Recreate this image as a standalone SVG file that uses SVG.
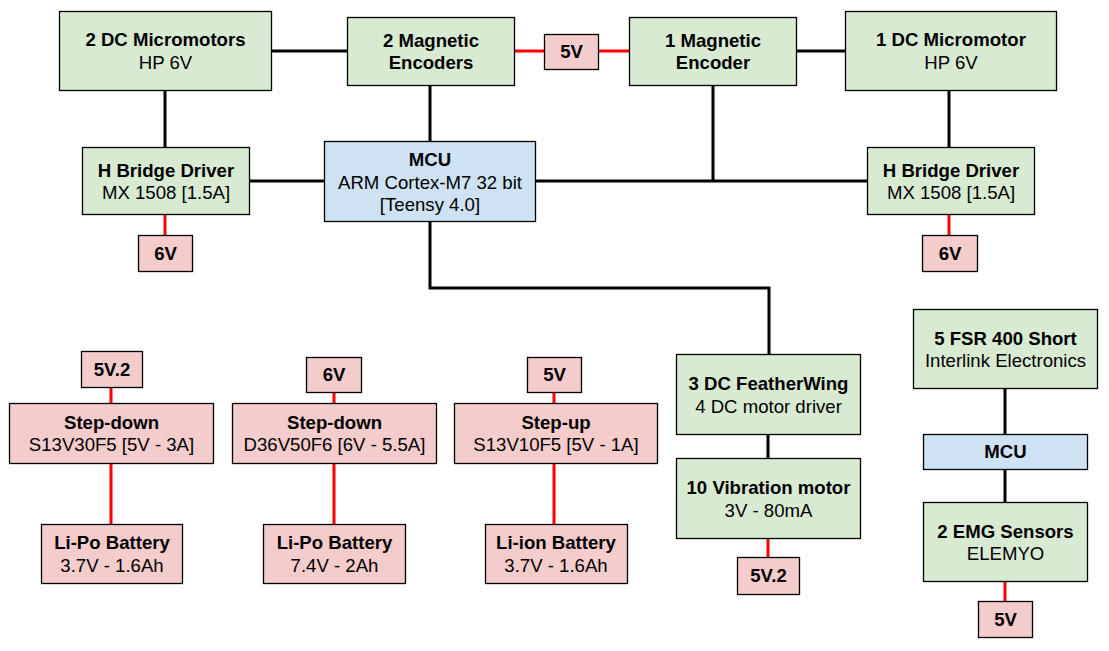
<svg xmlns="http://www.w3.org/2000/svg" width="1109" height="651" viewBox="0 0 1109 651">
<style>
rect{stroke:#000;stroke-width:1.3}
.g{fill:#d9ead3}.b{fill:#cfe2f3}.r{fill:#f4cccc}
text{font-family:"Liberation Sans",Arial,sans-serif;font-size:18.6px;fill:#000;text-anchor:middle}
.t{font-weight:bold}
.k{stroke:#000;stroke-width:3;fill:none}
.e{stroke:#ff0000;stroke-width:3;fill:none}
</style>
<g id="connectors">
<path class="k" d="M272 51H347M796 51H845M165 90V147M949 90V147M430 85V141M249 181H324M535 181H867M713 85V181M430 221V288H769V354M768 434V458M1005 388V434M1005 469V502"/>
<path class="e" d="M514 51H544M598 51H629M165 214V235M949 214V235M111 387V403M111 463V524M334 392V403M334 463V524M554 392V403M554 463V524M768 538V557M1005 581V601"/>
</g>
<g id="n_2dcmm"><rect class="g" x="59.5" y="11.5" width="212" height="79"/><text class="t" x="165.5" y="46">2 DC Micromotors</text><text x="165.5" y="68.5">HP 6V</text></g>
<g id="n_2enc"><rect class="g" x="347.5" y="17.5" width="167" height="68"/><text class="t" x="431" y="46.5">2 Magnetic</text><text x="431" y="69" class="t">Encoders</text></g>
<g id="n_5vtop"><rect class="r" x="544.5" y="34.5" width="54" height="35"/><text class="t" x="571.5" y="58">5V</text></g>
<g id="n_1enc"><rect class="g" x="629.5" y="17.5" width="167" height="68"/><text class="t" x="713" y="46.5">1 Magnetic</text><text x="713" y="69" class="t">Encoder</text></g>
<g id="n_1dcmm"><rect class="g" x="845.5" y="11.5" width="211" height="79"/><text class="t" x="951" y="46">1 DC Micromotor</text><text x="951" y="68.5">HP 6V</text></g>
<g id="n_hbl"><rect class="g" x="82.5" y="147.5" width="167" height="67"/><text class="t" x="166" y="176.5">H Bridge Driver</text><text x="166" y="199">MX 1508 [1.5A]</text></g>
<g id="n_mcu"><rect class="b" x="324.5" y="141.5" width="211" height="80"/><text class="t" x="430" y="166">MCU</text><text x="430" y="188.5">ARM Cortex-M7 32 bit</text><text x="430" y="211">[Teensy 4.0]</text></g>
<g id="n_hbr"><rect class="g" x="867.5" y="147.5" width="167" height="67"/><text class="t" x="951" y="176.5">H Bridge Driver</text><text x="951" y="199">MX 1508 [1.5A]</text></g>
<g id="n_6vl"><rect class="r" x="138.5" y="235.5" width="54" height="36"/><text class="t" x="165.5" y="259.5">6V</text></g>
<g id="n_6vr"><rect class="r" x="922.5" y="235.5" width="55" height="36"/><text class="t" x="950" y="259.5">6V</text></g>
<g id="n_5v2a"><rect class="r" x="81.5" y="351.5" width="61" height="36"/><text class="t" x="112" y="375.5">5V.2</text></g>
<g id="n_sd1"><rect class="r" x="9.5" y="403.5" width="204" height="60"/><text class="t" x="111.5" y="428.5">Step-down</text><text x="111.5" y="451">S13V30F5 [5V - 3A]</text></g>
<g id="n_lipo1"><rect class="r" x="41.5" y="524.5" width="141" height="59"/><text class="t" x="112" y="549">Li-Po Battery</text><text x="112" y="571.5">3.7V - 1.6Ah</text></g>
<g id="n_6vb"><rect class="r" x="306.5" y="357.5" width="55" height="35"/><text class="t" x="334" y="381">6V</text></g>
<g id="n_sd2"><rect class="r" x="232.5" y="403.5" width="204" height="60"/><text class="t" x="334.5" y="428.5">Step-down</text><text x="334.5" y="451">D36V50F6 [6V - 5.5A]</text></g>
<g id="n_lipo2"><rect class="r" x="263.5" y="524.5" width="142" height="59"/><text class="t" x="334.5" y="549">Li-Po Battery</text><text x="334.5" y="571.5">7.4V - 2Ah</text></g>
<g id="n_5vb"><rect class="r" x="527.5" y="357.5" width="54" height="35"/><text class="t" x="554.5" y="381">5V</text></g>
<g id="n_su"><rect class="r" x="454.5" y="403.5" width="203" height="60"/><text class="t" x="556" y="428.5">Step-up</text><text x="556" y="451">S13V10F5 [5V - 1A]</text></g>
<g id="n_liion"><rect class="r" x="485.5" y="524.5" width="142" height="59"/><text class="t" x="556" y="549">Li-ion Battery</text><text x="556" y="571.5">3.7V - 1.6Ah</text></g>
<g id="n_fw"><rect class="g" x="676.5" y="354.5" width="184" height="80"/><text class="t" x="768.5" y="390">3 DC FeatherWing</text><text x="768.5" y="412.5">4 DC motor driver</text></g>
<g id="n_vib"><rect class="g" x="676.5" y="458.5" width="184" height="80"/><text class="t" x="768.5" y="494">10 Vibration motor</text><text x="768.5" y="516.5">3V - 80mA</text></g>
<g id="n_5v2b"><rect class="r" x="737.5" y="557.5" width="62" height="37"/><text class="t" x="768.5" y="582">5V.2</text></g>
<g id="n_fsr"><rect class="g" x="913.5" y="309.5" width="184" height="79"/><text class="t" x="1005.5" y="344.5">5 FSR 400 Short</text><text x="1005.5" y="367">Interlink Electronics</text></g>
<g id="n_mcu2"><rect class="b" x="923.5" y="434.5" width="164" height="35"/><text class="t" x="1005.5" y="458">MCU</text></g>
<g id="n_emg"><rect class="g" x="923.5" y="502.5" width="164" height="79"/><text class="t" x="1005.5" y="537.5">2 EMG Sensors</text><text x="1005.5" y="560">ELEMYO</text></g>
<g id="n_5vc"><rect class="r" x="978.5" y="601.5" width="54" height="36"/><text class="t" x="1005.5" y="625.5">5V</text></g>
</svg>
